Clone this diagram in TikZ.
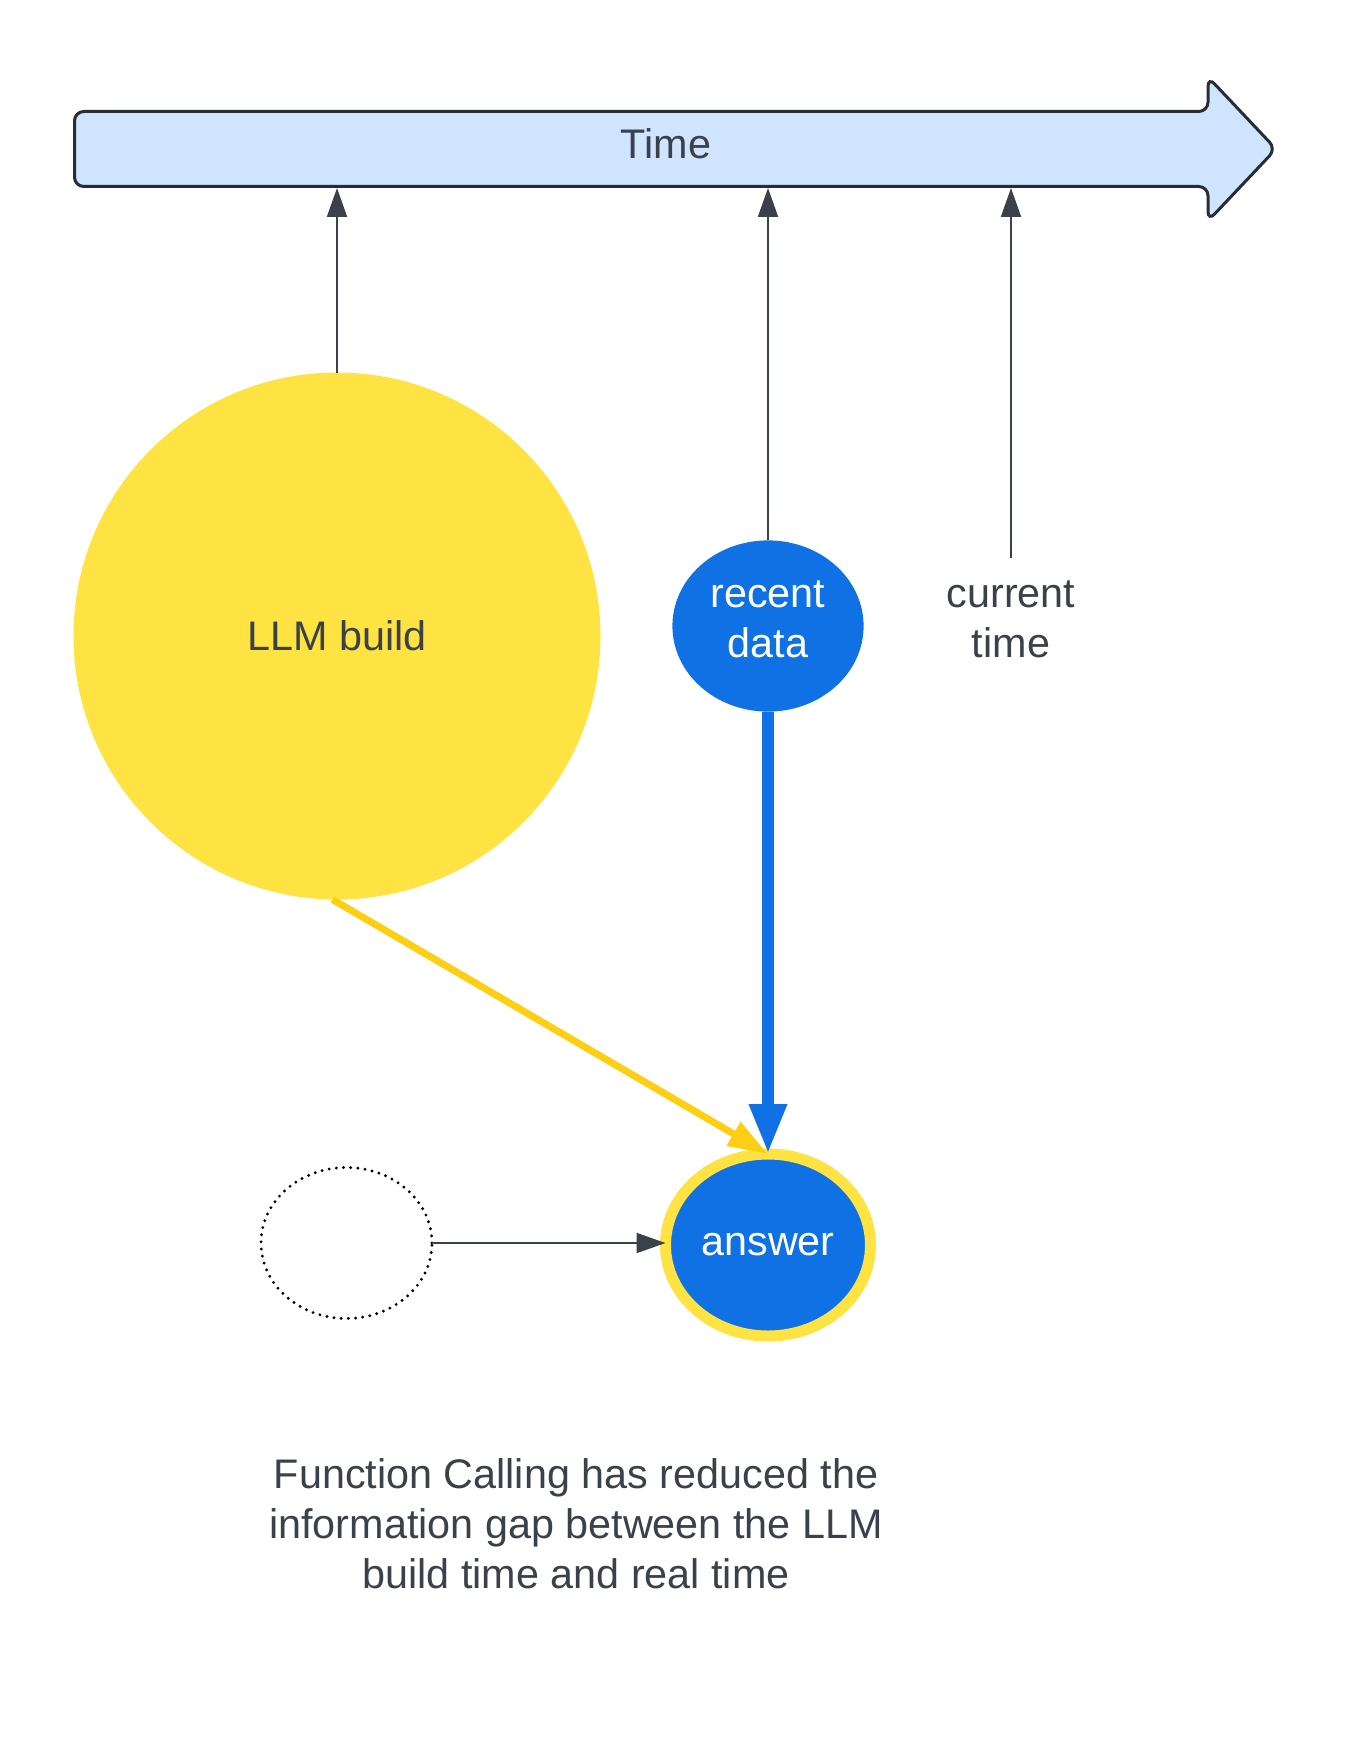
\documentclass[tikz,border=0pt]{standalone}
\usepackage{fontspec}
\setmainfont{Liberation Sans}
\usetikzlibrary{arrows.meta,shapes.geometric}
\definecolor{txt}{HTML}{3A414A}
\definecolor{bordc}{HTML}{282C33}
\definecolor{lblue}{HTML}{CFE4FF}
\definecolor{yel}{HTML}{FFE342}
\definecolor{yelarr}{HTML}{FCCE14}
\definecolor{blu}{HTML}{1071E5}
\tikzset{
  lbl/.style={font=\fontsize{31}{37.5}\selectfont, text=txt, align=center},
  thinarr/.style={draw=txt, line width=1.5pt, -{Triangle[length=21.75pt,width=15pt]}},
  bluearr/.style={draw=blu, line width=9pt, -{Triangle[length=37.5pt,width=26.25pt]}},
  yelarrow/.style={draw=yelarr, line width=5.25pt, -{Triangle[length=30pt,width=19.5pt]}},
  bluenode/.style={ellipse, fill=blu, inner sep=0pt, outer sep=0pt, text=white,
    font=\fontsize{31}{37.5}\selectfont, align=center},
}
\begin{document}
\begin{tikzpicture}[x=0.75pt,y=-0.75pt]
\useasboundingbox (0,0) rectangle (1350,1744);
% time arrow
\draw[draw=bordc, fill=lblue, line width=2.25pt, rounded corners=7pt]
  (74.5,111.5) -- (1208,111.5) -- (1208,77) -- (1276,149) -- (1208,221)
  -- (1208,186.5) -- (74.5,186.5) -- cycle;
\node[lbl] (time) at (666,144) {Time};
\coordinate (t1) at (337,188);
\coordinate (t2) at (768,188);
\coordinate (t3) at (1011,188);
% nodes
\node[circle, fill=yel, minimum size=395.25pt, inner sep=0pt, outer sep=0pt,
  lbl] (llm) at (337,636) {LLM build};
\node[bluenode, minimum width=143.4pt, minimum height=128.4pt] (rd) at (768,626) {};
\node[text=white, font=\fontsize{31}{37.5}\selectfont, align=center] (rdt) at (768,619) {recent\\data};
\node[bluenode, draw=yel, line width=8.25pt, minimum width=153.75pt, minimum height=136.5pt] (ans) at (768,1245) {};
\node[text=white, font=\fontsize{31}{37.5}\selectfont] (anst) at (768,1245) {answer};
\node[ellipse, draw=black, line width=2.4pt, dash pattern=on 0pt off 5.4pt, line cap=round,
  minimum width=128.25pt, minimum height=113.25pt, inner sep=0pt, outer sep=0pt] (dot) at (346.5,1243) {};
\node[lbl] (ct) at (1011,619) {current\\time};
\coordinate (ctl) at (1011,558);
\node[lbl] (cap) at (576,1524) {Function Calling has reduced the\\information gap between the LLM\\build time and real time};
% connectors
\draw[thinarr] (llm.north) -- (t1);
\draw[thinarr] (rd.north) -- (t2);
\draw[thinarr] (ctl) -- (t3);
\draw[thinarr] (dot.east) -- (dot.east -| ans.west);
\draw[yelarrow] (llm.-91.5) -- (ans.north);
\draw[bluearr] (rd.south) -- (ans.north);
\end{tikzpicture}
\end{document}
